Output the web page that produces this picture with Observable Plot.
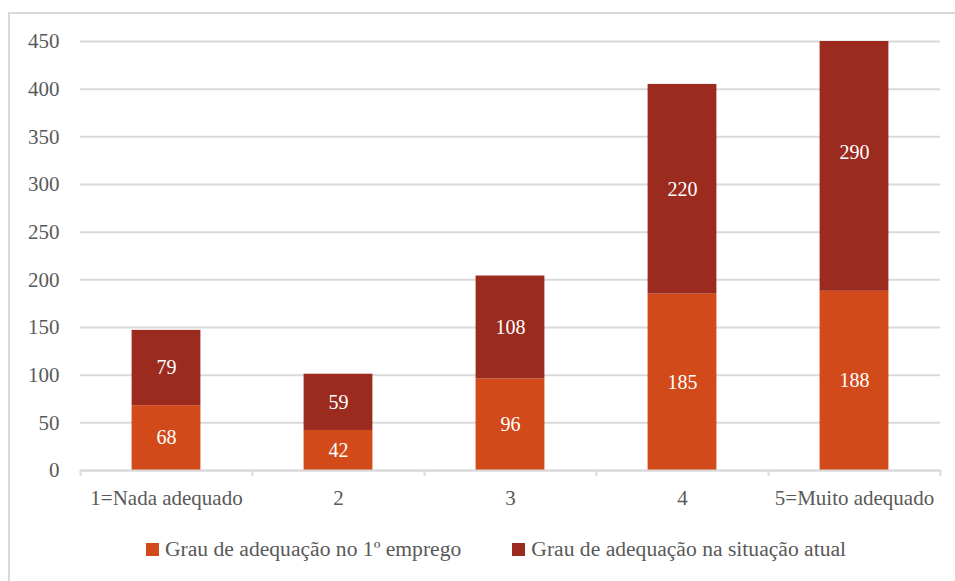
<!DOCTYPE html>
<html>
<head>
<meta charset="utf-8">
<script src="https://cdn.jsdelivr.net/npm/d3@7"></script>
<script src="https://cdn.jsdelivr.net/npm/@observablehq/plot@0.6"></script>
<style>
  html, body { margin: 0; padding: 0; background: #ffffff; overflow: hidden; }
  body { width: 955px; height: 581px; position: relative; font-family: "Liberation Serif", "DejaVu Serif", serif; }
  #frame { position: absolute; left: 8px; top: 12px; width: 1000px; height: 700px; border: 2px solid #d9d9d9; box-sizing: border-box; }
  #chart { position: absolute; left: 0; top: 0; }
  #legend { position: absolute; left: 146px; top: 537px; height: 24px; display: flex; align-items: center; color: #595959; font-size: 21.6px; white-space: nowrap; }
  .item { display: flex; align-items: center; }
  .item + .item { margin-left: 51px; }
  .sw { width: 13px; height: 13px; margin-right: 6px; display: inline-block; }
</style>
</head>
<body>
<div id="frame"></div>
<div id="chart"></div>
<div id="legend"></div>
<script>
const categories = ["1=Nada adequado", "2", "3", "4", "5=Muito adequado"];
const seriesNames = ["Grau de adequação no 1º emprego", "Grau de adequação na situação atual"];
const primeiroEmprego = [68, 42, 96, 185, 188];
const situacaoAtual = [79, 59, 108, 220, 290];
const yTicks = [0, 50, 100, 150, 200, 250, 300, 350, 400, 450];
const seriesColors = ["#D24A19", "#9B2B1F"];

const data = [];
categories.forEach((c, i) => data.push({cat: c, series: seriesNames[0], value: primeiroEmprego[i]}));
categories.forEach((c, i) => data.push({cat: c, series: seriesNames[1], value: situacaoAtual[i]}));

function build(extraMarks) {
  return Plot.plot({
    width: 955,
    height: 520,
    marginLeft: 80,
    marginRight: 15,
    marginTop: 41,
    marginBottom: 50,
    style: {fontFamily: "'Liberation Serif', 'DejaVu Serif', serif", fontSize: "21px", color: "#595959", background: "transparent", overflow: "visible"},
    x: {domain: categories, paddingInner: 0.6, paddingOuter: 0.3, round: false, label: null},
    y: {domain: [0, 450], label: null},
    color: {domain: seriesNames, range: seriesColors},
    marks: [
      Plot.gridY(yTicks, {stroke: "#d9d9d9", strokeOpacity: 1, strokeWidth: 2}),
      Plot.barY(data, {x: "cat", y: "value", fill: "series", clip: true}),
      Plot.text(data, Plot.stackY({x: "cat", y: "value", z: "series", text: d => String(d.value), fill: "white", fontSize: 20})),
      Plot.ruleY([0], {stroke: "#d9d9d9", strokeWidth: 2}),
      ...extraMarks,
      Plot.axisY({ticks: yTicks, tickSize: 0, tickPadding: 21, label: null}),
      Plot.axisX({tickSize: 0, tickPadding: 20, label: null})
    ]
  });
}

const first = build([]);
const xs = first.scale("x");
const half = xs.step / 2;
const boundaryMarks = [
  Plot.ruleX(categories, {x: d => d, dx: -half, y1: 0, y2: 0, insetBottom: -6, stroke: "#d9d9d9", strokeWidth: 2}),
  Plot.ruleX(categories.slice(-1), {x: d => d, dx: half, y1: 0, y2: 0, insetBottom: -6, stroke: "#d9d9d9", strokeWidth: 2})
];
const chart = build(boundaryMarks);
document.getElementById("chart").appendChild(chart);

const legend = document.getElementById("legend");
seriesNames.forEach((name, i) => {
  const item = document.createElement("span");
  item.className = "item";
  const sw = document.createElement("span");
  sw.className = "sw";
  sw.style.background = seriesColors[i];
  const label = document.createElement("span");
  label.textContent = name;
  item.appendChild(sw);
  item.appendChild(label);
  legend.appendChild(item);
});
</script>
</body>
</html>
